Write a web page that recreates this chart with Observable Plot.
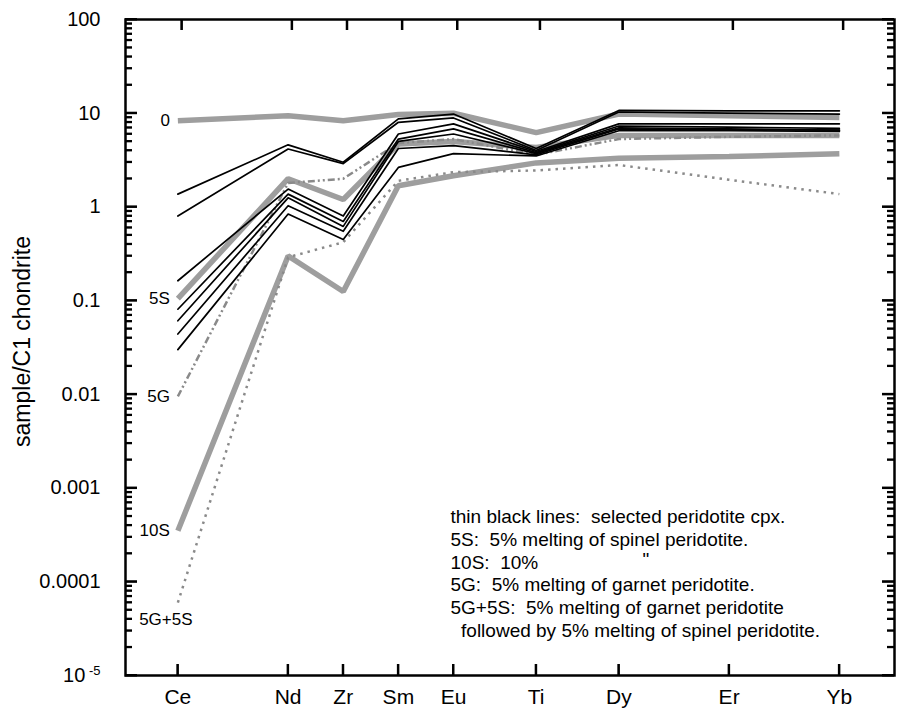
<!DOCTYPE html>
<html><head><meta charset="utf-8">
<script src="https://cdn.jsdelivr.net/npm/d3@7"></script>
<script src="https://cdn.jsdelivr.net/npm/@observablehq/plot@0.6"></script>
<style>
body{margin:0;background:#fff;}
#chart text{white-space:pre;}
</style></head><body>
<div id="chart"></div>
<script>
// ---- data ----
const elements   = ["Ce","Nd","Zr","Sm","Eu","Ti","Dy","Er","Yb"];
const elementPos = [0, 4, 6, 8, 10, 13, 16, 20, 24];

// thin black lines: selected peridotite cpx
const cpx1 = [1.37, 4.6, 3.0, 8.7, 9.8, 4.2, 10.7, 10.6, 10.6];
const cpx2 = [0.80, 4.15, 2.9, 8.0, 8.9, 4.0, 10.3, 10.0, 9.8];
const cpx3 = [0.163, 1.55, 0.80, 6.0, 7.7, 3.9, 7.7, 7.7, 7.7];
const cpx4 = [0.081, 1.37, 0.70, 5.3, 6.8, 3.8, 7.3, 7.1, 6.9];
const cpx5 = [0.061, 1.25, 0.62, 5.0, 6.0, 3.7, 7.0, 6.8, 6.6];
const cpx6 = [0.044, 1.03, 0.55, 4.2, 4.5, 3.6, 6.8, 6.7, 6.6];
const cpx7 = [0.030, 0.84, 0.45, 2.64, 3.7, 3.5, 6.5, 6.5, 6.4];

// model curves
const m0    = [8.3, 9.4, 8.3, 9.7, 10.0, 6.2, 9.8, 9.4, 9.0];
const m5S   = [0.105, 2.0, 1.2, 4.7, 5.0, 4.3, 5.8, 5.8, 5.8];
const m10S  = [0.00035, 0.30, 0.125, 1.68, 2.15, 2.95, 3.3, 3.45, 3.7];
const m5G   = [0.0095, 1.8, 2.0, 4.8, 5.3, 3.6, 5.3, 5.6, 5.8];
const m5G5S = [0.00006, 0.29, 0.42, 1.9, 2.35, 2.45, 2.8, 1.95, 1.37];

const yMajor = [1e-5, 1e-4, 1e-3, 0.01, 0.1, 1, 10, 100];
const yMajorLabels = ["10-5", "0.0001", "0.001", "0.01", "0.1", "1", "10", "100"];
const yMinorMult = [2, 3, 4, 5, 6, 7, 8, 9];

const seriesLabels = ["0", "5S", "10S", "5G", "5G+5S"];
const legendLines = [
  "thin black lines:  selected peridotite cpx.",
  "5S:  5% melting of spinel peridotite.",
  "10S:  10%",
  "5G:  5% melting of garnet peridotite.",
  "5G+5S:  5% melting of garnet peridotite",
  "  followed by 5% melting of spinel peridotite."
];
const dittoMark = "\"";
const yTitle = "sample/C1 chondrite";

// ---- build tables ----
const toRows = (name, vals) => vals.map((v, i) => ({series: name, x: elementPos[i], y: v}));
const cpxRows = [cpx1, cpx2, cpx3, cpx4, cpx5, cpx6, cpx7].flatMap((v, k) => toRows("cpx" + (k + 1), v));
const thickRows = [...toRows("0", m0), ...toRows("5S", m5S), ...toRows("10S", m10S)];
const g5Rows = toRows("5G", m5G);
const g5s5Rows = toRows("5G+5S", m5G5S);
const modelMap = {"0": m0, "5S": m5S, "10S": m10S, "5G": m5G, "5G+5S": m5G5S};
const labelRows = seriesLabels.map(s => ({text: s, x: elementPos[0], y: modelMap[s][0]}));
const yMinor = yMajor.slice(0, -1).flatMap(p => yMinorMult.map(m => m * p));

const font = "'Liberation Sans', Arial, Helvetica, sans-serif";
const W = 903, H = 709, ML = 125, MR = 9, MT = 19, MB = 34;
const FW = W - ML - MR, FH = H - MT - MB;

const plot = Plot.plot({
  width: W,
  height: H,
  marginLeft: ML,
  marginRight: MR,
  marginTop: MT,
  marginBottom: MB,
  style: {fontFamily: font, color: "#000"},
  x: {domain: [-1.9, 26]},
  y: {type: "log", domain: [1e-5, 100]},
  marks: [
    Plot.frame({fill: "none", stroke: "#000", strokeWidth: 2.5}),
    // tick labels
    Plot.axisY(yMajor, {anchor: "left", tickSize: 0, tickPadding: 25, fontSize: 20, label: null,
      tickFormat: d => yMajorLabels[yMajor.findIndex(v => Math.abs(v - d) / v < 1e-6)]}),
    Plot.axisX(elementPos, {anchor: "bottom", tickSize: 0, tickPadding: 14, fontSize: 21, label: null,
      tickFormat: d => elements[elementPos.indexOf(d)]}),
    // model curves (thick gray)
    Plot.line(thickRows, {x: "x", y: "y", z: "series", stroke: "#9e9e9e", strokeWidth: 5.5, strokeLinejoin: "miter", strokeLinecap: "butt"}),
    // dotted model curves
    Plot.line(g5Rows, {x: "x", y: "y", stroke: "#8a8a8a", strokeWidth: 2.5, strokeDasharray: "7,3,2,3,2,3", strokeLinecap: "butt"}),
    Plot.line(g5s5Rows, {x: "x", y: "y", stroke: "#8a8a8a", strokeWidth: 2.5, strokeDasharray: "2.5,5", strokeLinecap: "butt"}),
    // black cpx lines
    Plot.line(cpxRows, {x: "x", y: "y", z: "series", stroke: "#000", strokeWidth: 1.7}),
    // inward ticks
    Plot.tickY(yMajor, {y: d => d, insetRight: FW - 12, stroke: "#000", strokeWidth: 2}),
    Plot.tickY(yMinor, {y: d => d, insetRight: FW - 7, stroke: "#000", strokeWidth: 1.8}),
    Plot.tickY(yMajor, {y: d => d, insetLeft: FW - 12, stroke: "#000", strokeWidth: 2}),
    Plot.tickY(yMinor, {y: d => d, insetLeft: FW - 7, stroke: "#000", strokeWidth: 1.8}),
    Plot.tickX(elementPos, {x: d => d, insetTop: FH - 11, stroke: "#000", strokeWidth: 2}),
    Plot.tickX(elementPos, {x: d => d, insetBottom: FH - 11, dx: 4, stroke: "#000", strokeWidth: 2}),
    // series labels
    Plot.text(labelRows.filter(d => d.text !== "5G+5S"), {x: "x", y: "y", text: "text", textAnchor: "end", dx: -8, fontSize: 17}),
    Plot.text(labelRows.filter(d => d.text === "5G+5S"), {x: "x", y: "y", text: "text", textAnchor: "middle", dx: -12, dy: 17, fontSize: 17}),
    // legend text
    Plot.text([legendLines.join("\n")], {text: d => d, frameAnchor: "top-left", dx: 325, dy: 487, lineAnchor: "top", textAnchor: "start", lineHeight: 1.205, fontSize: 19}),
    Plot.text([dittoMark], {text: d => d, frameAnchor: "top-left", dx: 517, dy: 487 + 2 * 22.9, lineAnchor: "top", fontSize: 19}),
    // y title
    Plot.text([yTitle], {text: d => d, frameAnchor: "left", rotate: -90, textAnchor: "middle", lineAnchor: "middle", dx: -103, dy: -6, fontSize: 23})
  ]
});

// superscript for 10^-5
d3.select(plot).selectAll("text").each(function() {
  if (this.textContent === "10-5") {
    const t = d3.select(this);
    t.text("10");
    t.append("tspan").attr("font-size", 13).attr("dy", "-0.55em").text(" -5");
  }
});
document.getElementById("chart").appendChild(plot);

// reinforce inward ticks using the plot's own scales
try {
  const sx = plot.scale("x"), sy = plot.scale("y");
  const g = d3.select(plot).append("g").attr("stroke", "#000");
  const x0 = ML, x1 = W - MR, y0 = MT, y1 = H - MB;
  for (const [vals, len, sw] of [[yMajor, 12, 2], [yMinor, 7, 1.8]]) {
    for (const v of vals) {
      const y = sy.apply(v);
      g.append("line").attr("x1", x0).attr("x2", x0 + len).attr("y1", y).attr("y2", y).attr("stroke-width", sw);
      g.append("line").attr("x1", x1 - len).attr("x2", x1).attr("y1", y).attr("y2", y).attr("stroke-width", sw);
    }
  }
  for (const v of elementPos) {
    const x = sx.apply(v);
    g.append("line").attr("x1", x).attr("x2", x).attr("y1", y1 - 11).attr("y2", y1).attr("stroke-width", 2);
    g.append("line").attr("x1", x + 4).attr("x2", x + 4).attr("y1", y0).attr("y2", y0 + 11).attr("stroke-width", 2);
  }
} catch (e) {}
</script>
</body></html>
